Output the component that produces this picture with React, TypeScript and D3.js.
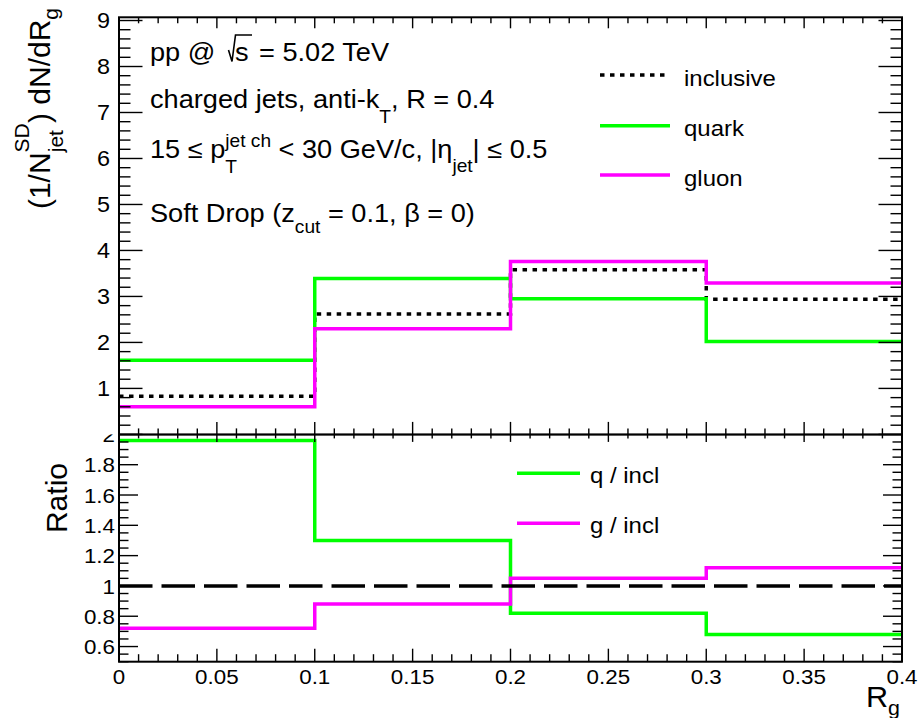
import React from "react";
import * as d3 from "d3";

// ---- data ----
const binEdges = [0, 0.1, 0.2, 0.3, 0.4];
const inclusive = [0.83, 2.62, 3.58, 2.94];
const quark = [1.61, 3.39, 2.95, 2.02];
const gluon = [0.6, 2.3, 3.76, 3.29];
const quarkRatio = [1.96, 1.3, 0.82, 0.68];
const gluonRatio = [0.72, 0.88, 1.05, 1.12];

const xMajorTicks = [0, 0.05, 0.1, 0.15, 0.2, 0.25, 0.3, 0.35, 0.4];
const topMajorTicks = [1, 2, 3, 4, 5, 6, 7, 8, 9];
const ratioMajorTicks = [0.6, 0.8, 1, 1.2, 1.4, 1.6, 1.8, 2];

const topLegend = [
  { label: "inclusive", key: "incl" },
  { label: "quark", key: "q" },
  { label: "gluon", key: "g" },
];
const ratioLegend = [
  { label: "q / incl", key: "q" },
  { label: "g / incl", key: "g" },
];

// ---- layout ----
const W = 921;
const H = 718;
const L = 119;
const R = 902;
const TOP = 17.3;
const SPLIT = 434.4;
const BOTTOM = 661.7;

const GREEN = "#00ff00";
const MAGENTA = "#ff00ff";
const FONT = "'Liberation Sans', Arial, Helvetica, sans-serif";
const SX = 1.065;

const x = d3.scaleLinear().domain([0, 0.4]).range([L, R]);
const yTop = d3.scaleLinear().domain([0, 9.07]).range([SPLIT, TOP]);
const yRatio = d3.scaleLinear().domain([0.5, 2.0]).range([BOTTOM, SPLIT]);

const stepPath = (vals: number[], y: d3.ScaleLinear<number, number>) => {
  const pts: [number, number][] = vals.map((v, i) => [binEdges[i], v]);
  pts.push([binEdges[binEdges.length - 1], vals[vals.length - 1]]);
  return d3
    .line<[number, number]>()
    .x((d) => x(d[0]))
    .y((d) => y(d[1]))
    .curve(d3.curveStepAfter)(pts) as string;
};

const range = (a: number, b: number, s: number) =>
  d3.range(Math.round((b - a) / s) + 1).map((i) => +(a + i * s).toFixed(4));

const fmt = (v: number) => String(+v.toFixed(2));

// horizontally stretched text group
const T = ({
  x: tx,
  y: ty,
  size,
  anchor = "start",
  sx = SX,
  children,
}: {
  x: number;
  y: number;
  size: number;
  anchor?: string;
  sx?: number;
  children: React.ReactNode;
}) => (
  <g transform={`translate(${tx},${ty}) scale(${sx},1)`}>
    <text x={0} y={0} fontSize={size} textAnchor={anchor as any} fontFamily={FONT} fill="#000">
      {children}
    </text>
  </g>
);

function XTicks({ yPos, dir, major, minor }: { yPos: number; dir: 1 | -1; major: number; minor: number }) {
  const minors = range(0, 0.4, 0.01);
  return (
    <g stroke="#000" strokeWidth={1.4}>
      {minors.map((v) => {
        const isMajor = xMajorTicks.some((m) => Math.abs(m - v) < 1e-6);
        const len = isMajor ? major : minor;
        return <line key={v} x1={x(v)} x2={x(v)} y1={yPos} y2={yPos + dir * len} />;
      })}
    </g>
  );
}

function YTicks({
  scale,
  lo,
  hi,
  step,
  majors,
  major,
  minor,
}: {
  scale: d3.ScaleLinear<number, number>;
  lo: number;
  hi: number;
  step: number;
  majors: number[];
  major: number;
  minor: number;
}) {
  const vals = range(lo, hi, step);
  return (
    <g stroke="#000" strokeWidth={1.4}>
      {vals.map((v) => {
        const isMajor = majors.some((m) => Math.abs(m - v) < 1e-6);
        const len = isMajor ? major : minor;
        return (
          <g key={v}>
            <line x1={L} x2={L + len} y1={scale(v)} y2={scale(v)} />
            <line x1={R} x2={R - len} y1={scale(v)} y2={scale(v)} />
          </g>
        );
      })}
    </g>
  );
}

export default function App() {
  const colorOf: Record<string, string> = { q: GREEN, g: MAGENTA, incl: "#000" };
  return (
    <svg
      width={W}
      height={H}
      viewBox={`0 0 ${W} ${H}`}
      style={{ position: "absolute", left: 0, top: 0, background: "#fff" }}
    >
      <rect width={W} height={H} fill="#fff" />

      {/* ---------- ratio panel ---------- */}
      <g>
        <path d={stepPath(quarkRatio, yRatio)} fill="none" stroke={GREEN} strokeWidth={3.5} />
        <path d={stepPath(gluonRatio, yRatio)} fill="none" stroke={MAGENTA} strokeWidth={3.5} />
        <line
          x1={x(0)}
          x2={x(0.4)}
          y1={yRatio(1)}
          y2={yRatio(1)}
          stroke="#000"
          strokeWidth={3.5}
          strokeDasharray="33.5 9"
        />
        <YTicks scale={yRatio} lo={0.5} hi={2} step={0.05} majors={ratioMajorTicks} major={19} minor={9.5} />
        <XTicks yPos={BOTTOM} dir={-1} major={13} minor={7.5} />
        <XTicks yPos={SPLIT} dir={1} major={7.5} minor={4} />
        <rect x={L} y={SPLIT} width={R - L} height={BOTTOM - SPLIT} fill="none" stroke="#000" strokeWidth={2} />
        {ratioMajorTicks.map((v) => (
          <T key={v} x={115} y={yRatio(v) + 7.6} size={21} anchor="end">
            {fmt(v)}
          </T>
        ))}
        {xMajorTicks.map((v) => (
          <T key={v} x={x(v)} y={683.5} size={21} anchor="middle">
            {fmt(v)}
          </T>
        ))}
        {/* legend */}
        {ratioLegend.map((d, i) => {
          const ly = 473.3 + i * 50;
          return (
            <g key={d.key}>
              <line x1={517} x2={580} y1={ly} y2={ly} stroke={colorOf[d.key]} strokeWidth={3.5} />
              <T x={590} y={ly + 10} size={22.5}>
                {d.label}
              </T>
            </g>
          );
        })}
        <g transform={`translate(67,463) rotate(-90)`}>
          <text fontSize={30} textAnchor="end" fontFamily={FONT}>
            Ratio
          </text>
        </g>
        <T x={900} y={707} size={30} anchor="end" sx={1.02}>
          R
          <tspan fontSize={21} dy={8}>
            g
          </tspan>
        </T>
      </g>

      {/* ---------- distribution panel ---------- */}
      <g>
        <rect x={0} y={0} width={W} height={SPLIT} fill="#fff" />
        <path
          d={stepPath(inclusive, yTop)}
          fill="none"
          stroke="#000"
          strokeWidth={3.5}
          strokeDasharray="4.5 5.5"
        />
        <path d={stepPath(quark, yTop)} fill="none" stroke={GREEN} strokeWidth={3.5} />
        <path d={stepPath(gluon, yTop)} fill="none" stroke={MAGENTA} strokeWidth={3.5} />

        <YTicks scale={yTop} lo={0} hi={9} step={0.2} majors={[0, ...topMajorTicks]} major={23.5} minor={11.5} />
        <XTicks yPos={TOP} dir={1} major={11} minor={6} />
        <XTicks yPos={SPLIT} dir={-1} major={12.5} minor={6} />
        <rect x={L} y={TOP} width={R - L} height={SPLIT - TOP} fill="none" stroke="#000" strokeWidth={2} />

        {topMajorTicks.map((v) => (
          <T key={v} x={110} y={yTop(v) + 7.8} size={22} anchor="end">
            {fmt(v)}
          </T>
        ))}

        {/* y title */}
        <g transform={`translate(50,8) rotate(-90)`}>
          <text fontSize={30} textAnchor="end" fontFamily={FONT}>
            (1/N
            <tspan fontSize={21} dy={-21}>
              SD
            </tspan>
            <tspan fontSize={21} dx={-29} dy={34}>
              jet
            </tspan>
            <tspan dx={7} dy={-13}>
              ) dN/dR
            </tspan>
            <tspan fontSize={21} dy={8}>
              g
            </tspan>
          </text>
        </g>

        {/* annotations */}
        <T x={150} y={61} size={25.5}>
          pp @
        </T>
        <path d="M228.5,50 L232,61.5 L235.5,35 L252,35" fill="none" stroke="#000" strokeWidth={1.6} />
        <T x={235} y={61} size={25.5}>
          s
        </T>
        <T x={259} y={61} size={25.5}>
          = 5.02 TeV
        </T>

        <T x={150} y={108.3} size={25.5}>
          charged jets, anti-k
          <tspan fontSize={18} dy={14.4}>
            T
          </tspan>
          <tspan dy={-14.4}>, R = 0.4</tspan>
        </T>

        <T x={150} y={158.3} size={25.5}>
          15 ≤ p
          <tspan fontSize={18} dy={14.7}>
            T
          </tspan>
          <tspan fontSize={18} dx={-11} dy={-26.3}>
            jet ch
          </tspan>
          <tspan dy={11.6}> &lt; 30 GeV/c, |η</tspan>
          <tspan fontSize={18} dy={13.4}>
            jet
          </tspan>
          <tspan dy={-13.4}>| ≤ 0.5</tspan>
        </T>

        <T x={150} y={222} size={25.5}>
          Soft Drop (z
          <tspan fontSize={18} dy={11.3}>
            cut
          </tspan>
          <tspan dy={-11.3}> = 0.1, β = 0)</tspan>
        </T>

        {/* legend */}
        {topLegend.map((d, i) => {
          const ly = [75, 125.7, 175][i];
          return (
            <g key={d.key}>
              <line
                x1={600}
                x2={670}
                y1={ly}
                y2={ly}
                stroke={colorOf[d.key]}
                strokeWidth={3.5}
                strokeDasharray={d.key === "incl" ? "4.5 5.5" : undefined}
              />
              <T x={684} y={ly + 10.5} size={22.5}>
                {d.label}
              </T>
            </g>
          );
        })}
      </g>
    </svg>
  );
}
